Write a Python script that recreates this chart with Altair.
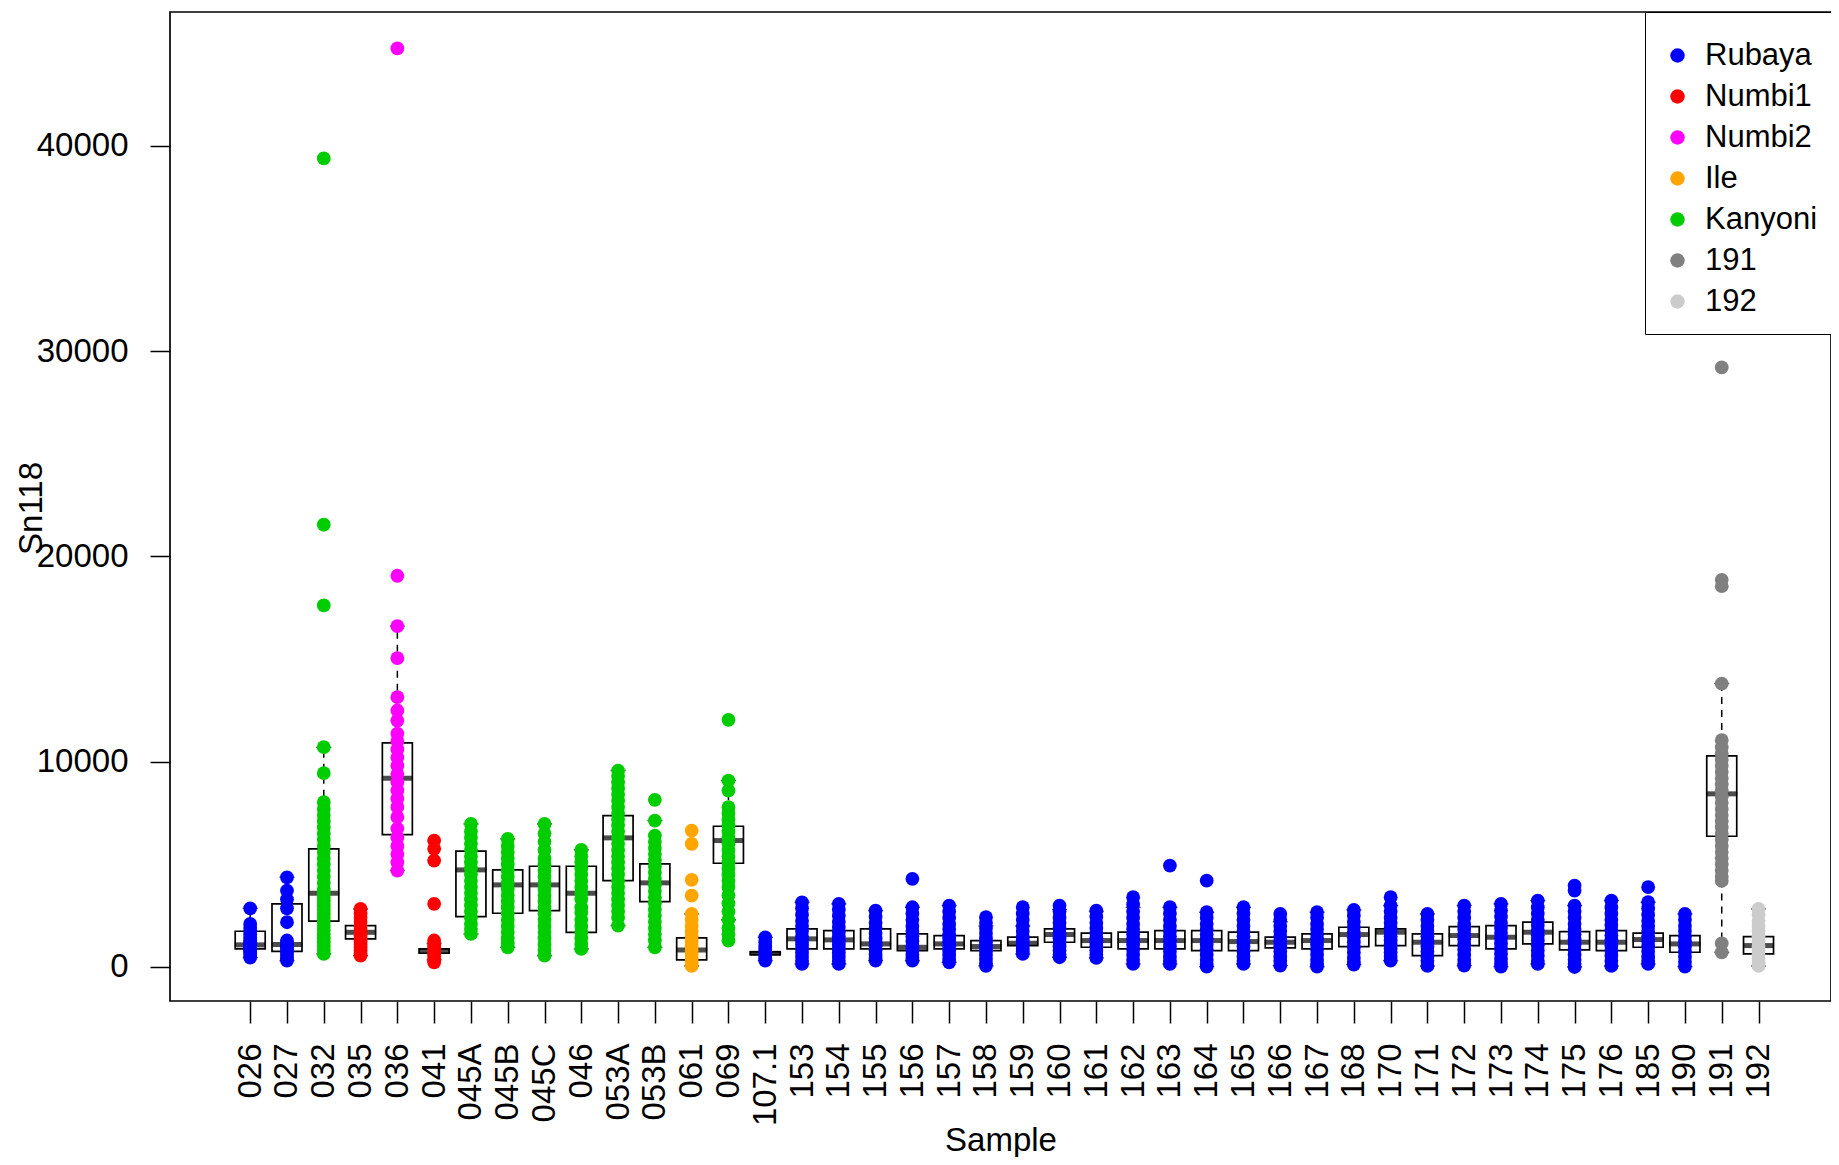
import json
import altair as alt
import pandas as pd

samples = ["026", "027", "032", "035", "036", "041", "045A", "045B", "045C", "046",
           "053A", "053B", "061", "069", "107.1", "153", "154", "155", "156", "157",
           "158", "159", "160", "161", "162", "163", "164", "165", "166", "167",
           "168", "170", "171", "172", "173", "174", "175", "176", "185", "190",
           "191", "192"]

site = ["Rubaya", "Rubaya", "Kanyoni", "Numbi1", "Numbi2", "Numbi1", "Kanyoni", "Kanyoni",
        "Kanyoni", "Kanyoni", "Kanyoni", "Kanyoni", "Ile", "Kanyoni", "Rubaya", "Rubaya",
        "Rubaya", "Rubaya", "Rubaya", "Rubaya", "Rubaya", "Rubaya", "Rubaya", "Rubaya",
        "Rubaya", "Rubaya", "Rubaya", "Rubaya", "Rubaya", "Rubaya", "Rubaya", "Rubaya",
        "Rubaya", "Rubaya", "Rubaya", "Rubaya", "Rubaya", "Rubaya", "Rubaya", "Rubaya",
        "191", "192"]

legend_names = ["Rubaya", "Numbi1", "Numbi2", "Ile", "Kanyoni", "191", "192"]
legend_colors = ["#0000FF", "#FF0000", "#FF00FF", "#FFA500", "#00CD00", "#808080", "#CCCCCC"]

sn118 = {
    "026": [2860, 2100, 1900, 1750, 1600, 1450, 1300, 1200, 1100, 1050, 1000, 950, 900, 850, 800, 700, 600, 460],
    "027": [4370, 3725, 3300, 2860, 2180, 1290, 1150, 1050, 950, 850, 700, 550, 400, 310],
    "032": [39390, 21545, 17612, 10707, 9440, 8026, 7700, 7400, 7100, 6800, 6500, 6200, 5900, 5600,
            5300, 5000, 4700, 4400, 4100, 3800, 3600, 3400, 3200, 3000, 2800, 2600, 2400, 2200,
            2000, 1800, 1600, 1400, 1200, 1000, 800, 638],
    "035": [2830, 2600, 2400, 2200, 2000, 1850, 1700, 1550, 1400, 1250, 1100, 950, 800, 650, 555],
    "036": [44750, 19060, 16605, 15045, 13143, 12495, 12008, 11374, 11000, 10600, 10200, 9800, 9400,
            9000, 8600, 8200, 7800, 7295, 6745, 6300, 5900, 5500, 5100, 4700],
    "041": [6160, 5755, 5185, 3075, 1290, 1100, 950, 800, 650, 500, 350, 230],
    "045A": [6970, 6600, 6300, 6000, 5700, 5400, 5100, 4800, 4500, 4200, 3900, 3600, 3300, 3000,
             2700, 2400, 2100, 1850, 1613],
    "045B": [6240, 5900, 5600, 5300, 5000, 4700, 4400, 4100, 3800, 3500, 3200, 2900, 2600, 2300,
             2000, 1700, 1400, 1150, 960],
    "045C": [6970, 6500, 6100, 5700, 5300, 5000, 4700, 4400, 4100, 3800, 3500, 3200, 2900, 2600,
             2300, 2000, 1700, 1400, 1100, 800, 555],
    "046": [5705, 5400, 5100, 4800, 4500, 4200, 3900, 3600, 3300, 2900, 2650, 2300, 2000, 1700,
            1400, 1100, 880],
    "053A": [9571, 9300, 9000, 8700, 8400, 8100, 7800, 7500, 7200, 6900, 6600, 6300, 6000, 5700,
             5400, 5100, 4800, 4500, 4200, 3900, 3600, 3300, 3000, 2700, 2400, 2017],
    "053B": [8143, 7134, 6403, 6100, 5800, 5500, 5200, 4900, 4600, 4300, 4000, 3700, 3400, 3100,
             2800, 2500, 2200, 1900, 1600, 1300, 960],
    "061": [6647, 5999, 4245, 3480, 2588, 2300, 2000, 1750, 1500, 1250, 1000, 800, 600, 400, 200, 50],
    "069": [12042, 9084, 8596, 7783, 7500, 7200, 6900, 6600, 6300, 6000, 5700, 5400, 5100, 4800,
            4500, 4200, 3900, 3500, 3100, 2700, 2300, 1900, 1600, 1287],
    "107.1": [1447, 1200, 1000, 850, 700, 550, 420, 312],
    "153": [3153, 2850, 2550, 2250, 2000, 1750, 1500, 1300, 1100, 900, 700, 500, 300, 150],
    "154": [3075, 2800, 2500, 2200, 1950, 1700, 1500, 1300, 1100, 900, 700, 500, 300, 150],
    "155": [2748, 2450, 2150, 1900, 1650, 1400, 1200, 1000, 800, 600, 450, 312],
    "156": [4293, 2910, 2600, 2300, 2000, 1750, 1500, 1250, 1000, 800, 600, 450, 312],
    "157": [2992, 2700, 2400, 2100, 1850, 1600, 1400, 1200, 1000, 800, 600, 400, 230],
    "158": [2425, 2150, 1900, 1650, 1400, 1200, 1000, 800, 600, 400, 200, 60],
    "159": [2912, 2600, 2300, 2000, 1750, 1500, 1300, 1100, 900, 750, 637],
    "160": [2993, 2700, 2400, 2150, 1900, 1650, 1400, 1200, 1000, 800, 600, 475],
    "161": [2749, 2450, 2150, 1900, 1650, 1400, 1200, 1000, 800, 600, 443],
    "162": [3399, 3050, 2700, 2400, 2100, 1850, 1600, 1350, 1100, 850, 600, 350, 150],
    "163": [4941, 2912, 2600, 2300, 2000, 1750, 1500, 1250, 1000, 750, 500, 300, 150],
    "164": [4211, 2668, 2400, 2100, 1850, 1600, 1350, 1100, 850, 600, 350, 150, 20],
    "165": [2912, 2600, 2300, 2000, 1750, 1500, 1250, 1000, 750, 500, 300, 150],
    "166": [2587, 2300, 2000, 1750, 1500, 1250, 1000, 750, 500, 300, 70],
    "167": [2668, 2400, 2100, 1850, 1600, 1350, 1100, 850, 600, 350, 150, 20],
    "168": [2782, 2500, 2200, 1950, 1700, 1450, 1200, 950, 700, 450, 250, 118],
    "170": [3399, 2993, 2700, 2400, 2150, 1900, 1700, 1500, 1300, 1100, 900, 700, 500, 312],
    "171": [2587, 2300, 2000, 1750, 1500, 1250, 1000, 750, 500, 300, 50],
    "172": [2993, 2700, 2400, 2100, 1850, 1600, 1350, 1100, 850, 600, 350, 150, 70],
    "173": [3074, 2750, 2450, 2150, 1900, 1650, 1400, 1150, 900, 650, 400, 200, 20],
    "174": [3236, 2900, 2600, 2300, 2050, 1800, 1550, 1300, 1050, 800, 550, 300, 150],
    "175": [3967, 3724, 2993, 2700, 2400, 2100, 1850, 1600, 1350, 1100, 850, 600, 350, 150, 0],
    "176": [3236, 2900, 2600, 2300, 2050, 1800, 1550, 1300, 1050, 800, 550, 300, 50],
    "185": [3886, 3155, 2850, 2550, 2250, 2000, 1750, 1500, 1250, 1000, 750, 500, 300, 150],
    "190": [2587, 2300, 2000, 1750, 1500, 1250, 1000, 750, 500, 250, 20],
    "191": [29210, 18860, 18550, 13810, 11048, 10700, 10400, 10100, 9800, 9500, 9200, 8900, 8600,
            8300, 8000, 7700, 7400, 7100, 6800, 6500, 6200, 5900, 5600, 5300, 5000, 4700, 4400,
            4190, 1145, 711],
    "192": [2830, 2550, 2250, 2000, 1750, 1500, 1250, 1000, 800, 600, 400, 200, 50],
}

# box statistics
q1 = [880, 765, 2230, 1370, 6452, 670, 2456, 2617, 2748, 1690, 4210, 3187, 346, 5054, 600,
      880, 880, 880, 800, 880, 800, 1043, 1206, 962, 881, 881, 800, 800, 930, 881,
      995, 1043, 556, 1043, 881, 1124, 832, 800, 962, 719, 6370, 637]
med = [1077, 1090, 3593, 1690, 9196, 765, 4730, 4000, 4000, 3593, 6290, 4098, 833, 6160, 668,
       1370, 1320, 1125, 960, 1125, 995, 1157, 1580, 1287, 1287, 1287, 1287, 1238, 1206, 1287,
       1580, 1694, 1206, 1531, 1450, 1694, 1206, 1206, 1336, 1124, 8435, 1043]
q3 = [1740, 3075, 5755, 2017, 10920, 880, 5640, 4730, 4907, 4907, 7378, 5024, 1418, 6857, 740,
      1857, 1774, 1857, 1613, 1530, 1287, 1450, 1856, 1645, 1694, 1775, 1775, 1694, 1450, 1612,
      1937, 1856, 1612, 1970, 2018, 2181, 1726, 1775, 1645, 1531, 10283, 1483]
whisk_lo = [460, 310, 638, 555, 4700, 350, 1613, 960, 555, 880, 2017, 960, 50, 2300, 312,
            150, 150, 312, 312, 230, 60, 637, 475, 443, 150, 150, 20, 150, 70, 20,
            118, 312, 50, 70, 20, 150, 0, 50, 150, 20, 711, 50]
whisk_hi = [2860, 4370, 10707, 2830, 16605, 1150, 6970, 6240, 6970, 5705, 9571, 7134, 2588, 9084, 1447,
            3153, 3075, 2748, 2910, 2992, 2000, 2000, 2800, 2700, 2900, 2912, 2668, 2912, 2200, 2668,
            2782, 2993, 2587, 2993, 3074, 3236, 2993, 3236, 3155, 2587, 13810, 2830]

y_ticks = [0, 10000, 20000, 30000, 40000]

# ---------------- tables ----------------
pts_rows = []
for i, s in enumerate(samples):
    for v in sn118[s]:
        pts_rows.append({"pos": i + 1, "sample": s, "site": site[i], "Sn118": v})
pts = pd.DataFrame(pts_rows)

box = pd.DataFrame({"pos": list(range(1, len(samples) + 1)), "sample": samples,
                    "q1": q1, "med": med, "q3": q3, "lo": whisk_lo, "hi": whisk_hi})

FONT = "Liberation Sans"
label_expr = json.dumps(samples) + "[datum.value - 1]"

x_scale = alt.Scale(domain=[-1.18, 43.97], nice=False, zero=False, padding=0)
y_scale = alt.Scale(domain=[-1657, 46525], nice=False, zero=False, padding=0)

x_axis = alt.Axis(values=list(range(1, len(samples) + 1)), labelExpr=label_expr,
                  labelAngle=270, labelAlign="right", labelBaseline="middle",
                  labelPadding=20, tickSize=22, labelOverlap=False, labelFlush=False,
                  title="Sample", titleY=149, titleBaseline="alphabetic")
y_axis = alt.Axis(values=y_ticks, format="d", tickSize=20, labelPadding=22,
                  labelOverlap=False, labelFlush=False,
                  title="Sn118", titleX=-122, titleY=496, titleAngle=270,
                  titleAlign="center", titleBaseline="bottom")

base_box = alt.Chart(box)

whisk_up = base_box.mark_rule(color="black", strokeWidth=1.5, strokeDash=[7, 6]).encode(
    x=alt.X("pos:Q", scale=x_scale, axis=x_axis),
    y=alt.Y("q3:Q", scale=y_scale, axis=y_axis),
    y2="hi:Q")
whisk_dn = base_box.mark_rule(color="black", strokeWidth=1.5, strokeDash=[7, 6]).encode(
    x="pos:Q", y="lo:Q", y2="q1:Q")
staple_hi = base_box.mark_tick(orient="horizontal", color="black", size=15, thickness=1.5).encode(
    x="pos:Q", y="hi:Q")
staple_lo = base_box.mark_tick(orient="horizontal", color="black", size=15, thickness=1.5).encode(
    x="pos:Q", y="lo:Q")
boxes = base_box.mark_bar(size=30, fillOpacity=0, stroke="black", strokeWidth=1.7).encode(
    x="pos:Q", y="q1:Q", y2="q3:Q")
medians = base_box.mark_tick(orient="horizontal", color="black", size=31, thickness=5).encode(
    x="pos:Q", y="med:Q")

points = alt.Chart(pts).mark_circle(size=190, opacity=1).encode(
    x="pos:Q",
    y="Sn118:Q",
    color=alt.Color("site:N",
                    scale=alt.Scale(domain=legend_names, range=legend_colors),
                    legend=alt.Legend(orient="none", legendX=1475, legendY=0,
                                      title=" ", titleFontSize=1, titlePadding=10,
                                      labelFont=FONT, labelFontSize=31, labelColor="black",
                                      symbolType="circle", symbolSize=210, symbolStrokeWidth=0,
                                      symbolOpacity=1, labelOffset=12, padding=17,
                                      rowPadding=9, strokeColor="black", fillColor="white")),
)

chart = alt.layer(whisk_up, whisk_dn, staple_hi, staple_lo, boxes, medians, points).properties(
    width=1661, height=989,
    autosize=alt.AutoSizeParams(type="none"),
    padding={"left": 162, "top": 4, "right": 0, "bottom": 156},
    background="white",
).configure_view(
    stroke="black", strokeWidth=1.7
).configure_axis(
    domain=False, grid=False,
    labelFont=FONT, labelFontSize=33, labelColor="black",
    tickColor="black", tickWidth=1.5,
    titleFont=FONT, titleFontSize=33, titleFontWeight="normal", titleColor="black",
)

chart.save("out.html", embed_options={"renderer": "svg", "actions": False})
